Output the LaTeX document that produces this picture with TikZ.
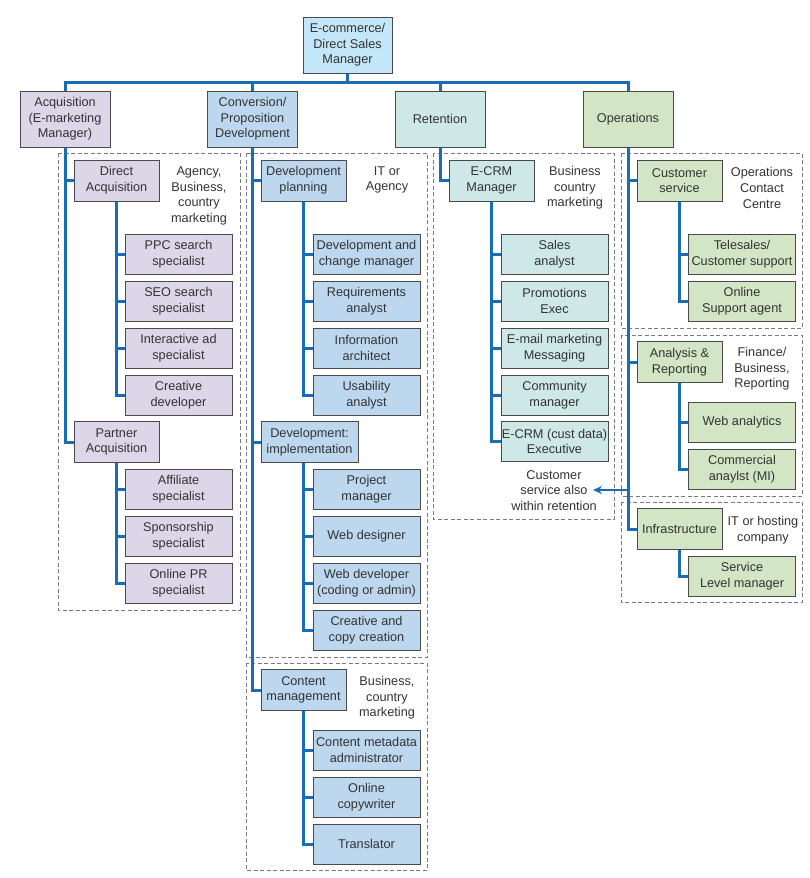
\documentclass[tikz,border=0pt]{standalone}
\usepackage{fontspec}
\setmainfont{Liberation Sans}
\usetikzlibrary{arrows.meta,calc}
\definecolor{linkblue}{HTML}{1A6DB4}
\definecolor{cpurple}{HTML}{DDD5E8}
\definecolor{cblue}{HTML}{BDD7EF}
\definecolor{ctop}{HTML}{C3E6F8}
\definecolor{cteal}{HTML}{CDE8E6}
\definecolor{cgreen}{HTML}{D2E6C5}
\definecolor{txt}{HTML}{333333}
\definecolor{bord}{HTML}{4A4A4A}
\definecolor{dashc}{HTML}{7A7A7A}
\begin{document}
\begin{tikzpicture}[x=1pt,y=-1pt,
  font=\fontsize{12.7}{15.7}\selectfont, text=txt,
  box/.style={draw=bord, line width=1pt, inner sep=0pt, align=center},
  lvl/.style={box, minimum width=90pt, minimum height=56pt},
  mid/.style={box, minimum width=85pt, minimum height=41pt},
  sub/.style={box, minimum width=107pt, minimum height=40pt},
  pur/.style={fill=cpurple}, blu/.style={fill=cblue}, tea/.style={fill=cteal}, gre/.style={fill=cgreen},
  link/.style={draw=linkblue, line width=3pt},
  grp/.style={draw=dashc, line width=1pt, dash pattern=on 4pt off 2.5pt},
  note/.style={align=center, inner sep=0pt}]
\useasboundingbox (0,0) rectangle (809,878);
% groups
\draw[grp] (58,153) rectangle (240,610);
\draw[grp] (246,153) rectangle (427,657);
\draw[grp] (246,663) rectangle (427,870);
\draw[grp] (433,153) rectangle (614,519);
\draw[grp] (621,153) rectangle (802,328);
\draw[grp] (621,335) rectangle (802,496);
\draw[grp] (621,502) rectangle (802,602);
% top
\node[box, fill=ctop, minimum width=89pt, minimum height=56pt] (top) at (347.5,45) {E-commerce/\\Direct Sales\\Manager};
\node[lvl,pur] (acq) at (65,119) {Acquisition\\(E-marketing\\Manager)};
\node[lvl,blu] (conv) at (252.5,119) {Conversion/\\Proposition\\Development};
\node[lvl,tea] (ret) at (440,119) {Retention};
\node[lvl,gre] (ops) at (628,119) {Operations};
\coordinate (bus) at (0,82);
\draw[link] (top.south) -- (top.south |- bus);
\draw[link] (acq.north) -- (acq.north |- bus) -| (ops.north);
\draw[link] (conv.north) -- (conv.north |- bus);
\draw[link] (ret.north) -- (ret.north |- bus);
% Acquisition
\node[mid,pur] (da) at (116.5,180.5) {Direct\\Acquisition};
\node[note] at (199,196) {Agency,\\Business,\\country\\marketing};
\node[sub,pur] (ppc) at (178.5,254) {PPC search\\specialist};
\node[sub,pur] (seo) at (178.5,301) {SEO search\\specialist};
\node[sub,pur] (iad) at (178.5,348) {Interactive ad\\specialist};
\node[sub,pur] (cde) at (178.5,395) {Creative\\developer};
\node[mid,pur] (pa) at (116.5,442) {Partner\\Acquisition};
\node[sub,pur] (aff) at (178.5,489) {Affiliate\\specialist};
\node[sub,pur] (spo) at (178.5,536) {Sponsorship\\specialist};
\node[sub,pur] (opr) at (178.5,583) {Online PR\\specialist};
\draw[link] (acq.south) |- (da.west);
\draw[link] (acq.south) |- (pa.west);
\foreach \n in {ppc,seo,iad,cde} \draw[link] (da.south) |- (\n.west);
\foreach \n in {aff,spo,opr} \draw[link] (pa.south) |- (\n.west);
% Conversion
\node[mid,blu] (dp) at (303.5,180.5) {Development\\planning};
\node[note] at (387,180) {IT or\\Agency};
\node[sub,blu] (dcm) at (366.5,254) {Development and\\change manager};
\node[sub,blu] (req) at (366.5,301) {Requirements\\analyst};
\node[sub,blu] (ia) at (366.5,348) {Information\\architect};
\node[sub,blu] (usa) at (366.5,395) {Usability\\analyst};
\node[box,blu, minimum width=97pt, minimum height=41pt] (di) at (309.5,442) {Development:\\implementation};
\node[sub,blu] (pm) at (366.5,489) {Project\\manager};
\node[sub,blu] (wd) at (366.5,536) {Web designer};
\node[sub,blu] (wdev) at (366.5,583) {Web developer\\(coding or admin)};
\node[sub,blu] (ccc) at (366.5,630) {Creative and\\copy creation};
\node[mid,blu] (cm) at (303.5,690) {Content\\management};
\node[note] at (387,698) {Business,\\country\\marketing};
\node[sub,blu] (cma) at (366.5,750) {Content metadata\\administrator};
\node[sub,blu] (ocw) at (366.5,797) {Online\\copywriter};
\node[sub,blu] (tra) at (366.5,844) {Translator};
\draw[link] (conv.south) |- (dp.west);
\draw[link] (conv.south) |- (di.west);
\draw[link] (conv.south) |- (cm.west);
\foreach \n in {dcm,req,ia,usa} \draw[link] (dp.south) |- (\n.west);
\foreach \n in {pm,wd,wdev,ccc} \draw[link] (di.south -| dp.south) |- (\n.west);
\foreach \n in {cma,ocw,tra} \draw[link] (cm.south) |- (\n.west);
% Retention
\node[mid,tea] (ecm) at (491.5,180.5) {E-CRM\\Manager};
\node[note] at (575,188) {Business\\country\\marketing};
\node[sub,tea] (sal) at (554.5,254) {Sales\\analyst};
\node[sub,tea] (pro) at (554.5,301) {Promotions\\Exec};
\node[sub,tea] (ema) at (554.5,348) {E-mail marketing\\Messaging};
\node[sub,tea] (com) at (554.5,395) {Community\\manager};
\node[sub,tea] (exe) at (554.5,441.5) {E-CRM (cust data)\\Executive};
\draw[link] (ret.south) |- (ecm.west);
\foreach \n in {sal,pro,ema,com,exe} \draw[link] (ecm.south) |- (\n.west);
\node[note] (csn) at (554,490.5) {Customer\\service also\\within retention};
% Operations
\node[mid,gre] (cs) at (679.5,180.5) {Customer\\service};
\node[note] at (762,188) {Operations\\Contact\\Centre};
\node[sub,gre] (tel) at (742,254) {Telesales/\\Customer support};
\node[sub,gre] (osa) at (742,301) {Online\\Support agent};
\node[mid,gre] (ar) at (679.5,362) {Analysis \&\\Reporting};
\node[note] at (762,369) {Finance/\\Business,\\Reporting};
\node[sub,gre] (wa) at (742,422) {Web analytics};
\node[sub,gre] (cam) at (742,469) {Commercial\\anaylst (MI)};
\node[mid,gre] (inf) at (679.5,529) {Infrastructure};
\node[note] at (763,530) {IT or hosting\\company};
\node[sub,gre] (slm) at (742,576) {Service\\Level manager};
\draw[link] (ops.south) |- (cs.west);
\draw[link] (ops.south) |- (ar.west);
\draw[link] (ops.south) |- (inf.west);
\foreach \n in {tel,osa} \draw[link] (cs.south) |- (\n.west);
\foreach \n in {wa,cam} \draw[link] (ar.south) |- (\n.west);
\draw[link] (inf.south) |- (slm.west);
\coordinate (arrowend) at (593,490);
\draw[link, line width=2.4pt, -{Stealth[length=9pt,width=8pt]}] (ops.south |- arrowend) -- (arrowend);
\end{tikzpicture}
\end{document}
